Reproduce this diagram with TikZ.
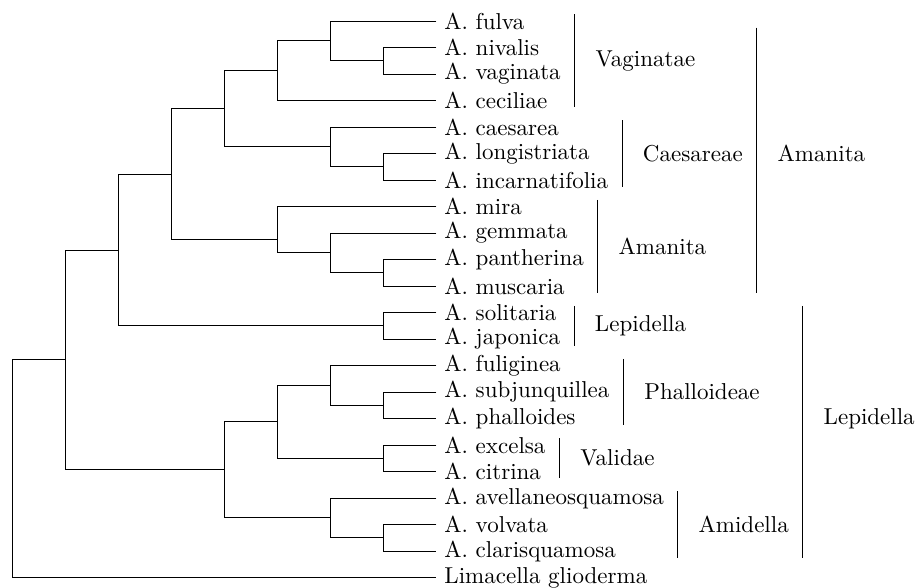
\documentclass[tikz,border=0pt]{standalone}
\usetikzlibrary{calc}
% joins two children at a given level, halfway between them
\newcommand\clade[4]{%
  \path ($(#3)!0.5!(#4)$) coordinate (#1 mid);
  \coordinate (#1) at (#2,0 |- #1 mid);
  \draw (#3) -| (#1) |- (#4);}
% bar beside a group of names, with its label
\newcommand\cladebar[6]{%
  \draw ([xshift=2.5pt]#2.east |- 0,#3) coordinate (#1 top) -- ([xshift=2.5pt]#2.east |- 0,#4) coordinate (#1 bot);
  \node[cladelabel] (#1) at ([xshift=5.6pt]#1 top |- 0,#5) {#6};}
\begin{document}
\begin{tikzpicture}[x=23.043pt,y=-11.522pt,
    leaf/.style={anchor=west},
    cladelabel/.style={anchor=west}]
                \useasboundingbox (-0.2321,-0.7925) rectangle (17.070,21.358);
                \def\tips{8};
                \foreach \nm/\txt [count=\i from 0] in {fulva/A. fulva,nivalis/A. nivalis,vaginata/A. vaginata,ceciliae/A. ceciliae,caesarea/A. caesarea,longistriata/A. longistriata,incarnatifolia/A. incarnatifolia,mira/A. mira,gemmata/A. gemmata,pantherina/A. pantherina,muscaria/A. muscaria,solitaria/A. solitaria,japonica/A. japonica,fuliginea/A. fuliginea,subjunquillea/A. subjunquillea,phalloides/A. phalloides,excelsa/A. excelsa,citrina/A. citrina,avellaneosquamosa/A. avellaneosquamosa,volvata/A. volvata,clarisquamosa/A. clarisquamosa,limacella/Limacella glioderma}{
                    \node[leaf] (\nm) at (\tips,\i) {\txt};}
                % section Vaginatae and Caesareae
                \clade{nv}{7}{nivalis}{vaginata}
                \clade{fnv}{6}{fulva}{nv}
                \clade{vag}{5}{fnv}{ceciliae}
                \clade{li}{7}{longistriata}{incarnatifolia}
                \clade{cae}{6}{caesarea}{li}
                \clade{vc}{4}{vag}{cae}
                % section Amanita
                \clade{pm}{7}{pantherina}{muscaria}
                \clade{gpm}{6}{gemmata}{pm}
                \coordinate (ama) at (5,8.25);
                \draw (mira) -| (ama) |- (gpm);
                \clade{sect}{3}{vc}{ama}
                \clade{sj}{7}{solitaria}{japonica}
                \clade{amanita}{2}{sect}{sj}
                % subgenus Lepidella
                \clade{sp}{7}{subjunquillea}{phalloides}
                \clade{phal}{6}{fuliginea}{sp}
                \clade{ec}{7}{excelsa}{citrina}
                \clade{pe}{5}{phal}{ec}
                \clade{vcl}{7}{volvata}{clarisquamosa}
                \clade{ami}{6}{avellaneosquamosa}{vcl}
                \clade{lep}{4}{pe}{ami}
                \clade{genus}{1}{amanita}{lep}
                \clade{root}{0}{genus}{limacella}
                % bars
                \cladebar{vaginatae}{vaginata}{-0.25}{3.25}{1.5}{Vaginatae}
                \cladebar{caesareae}{incarnatifolia}{3.75}{6.25}{5}{Caesareae}
                \cladebar{amanitasec}{pantherina}{6.75}{10.25}{8.5}{Amanita}
                \cladebar{amanitasub}{caesareae}{0.25}{10.25}{5}{Amanita}
                \cladebar{lepidellasec}{japonica}{10.75}{12.25}{11.5}{Lepidella}
                \cladebar{phalloideae}{subjunquillea}{12.75}{15.25}{14}{Phalloideae}
                \cladebar{validae}{excelsa}{15.75}{17.25}{16.5}{Validae}
                \cladebar{amidella}{avellaneosquamosa}{17.75}{20.25}{19}{Amidella}
                \cladebar{lepidellasub}{amidella}{10.75}{20.25}{15}{Lepidella}
\end{tikzpicture}
\end{document}
